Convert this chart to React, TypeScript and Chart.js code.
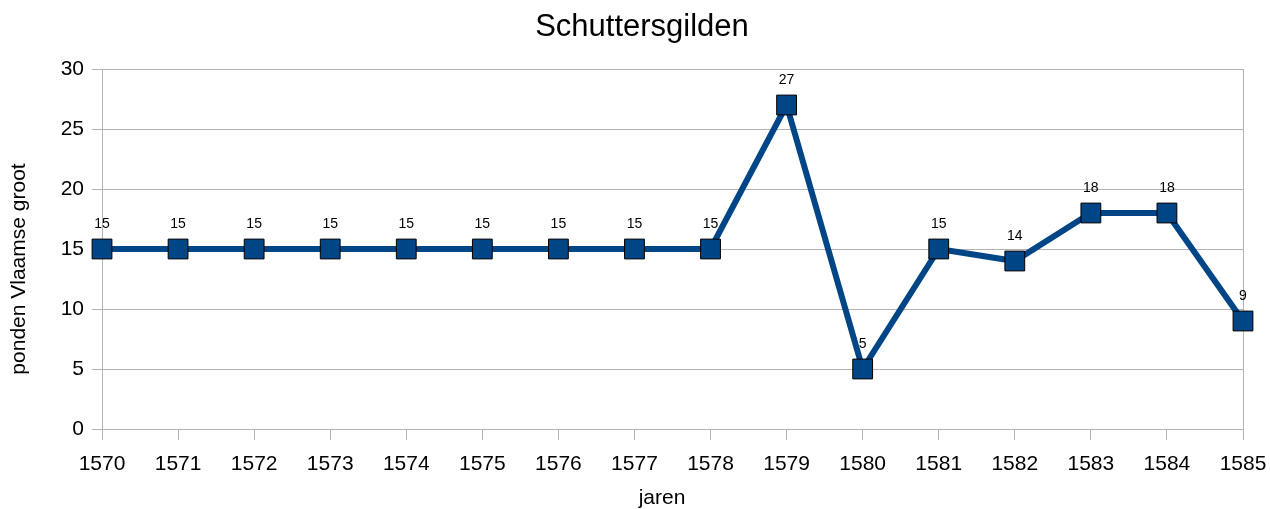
import React, { useEffect, useRef } from "react";
import { Chart, registerables } from "chart.js";

Chart.register(...registerables);

const years: string[] = ["1570","1571","1572","1573","1574","1575","1576","1577","1578","1579","1580","1581","1582","1583","1584","1585"];
const values: number[] = [15, 15, 15, 15, 15, 15, 15, 15, 15, 27, 5, 15, 14, 18, 18, 9];
const yTicks: number[] = [0, 5, 10, 15, 20, 25, 30];
const chartTitle = "Schuttersgilden";
const xTitle = "jaren";
const yTitle = "ponden Vlaamse groot";

const FONT = "'Liberation Sans', Arial, sans-serif";
const GRID = "#b3b3b3";
const BLUE = "#004586";

const labelPlugin = {
  id: "valueLabels",
  afterDatasetsDraw(chart: any) {
    const ctx = chart.ctx;
    const meta = chart.getDatasetMeta(0);
    ctx.save();
    ctx.font = `14px ${FONT}`;
    ctx.fillStyle = "#000";
    ctx.textAlign = "center";
    ctx.textBaseline = "middle";
    meta.data.forEach((pt: any, i: number) => {
      ctx.fillText(String(values[i]), pt.x, pt.y - 25);
    });
    ctx.restore();
  },
};

const framePlugin = {
  id: "frameAndTitles",
  beforeDatasetsDraw(chart: any) {
    const { ctx, chartArea } = chart;
    ctx.save();
    ctx.strokeStyle = GRID;
    ctx.lineWidth = 1;
    ctx.beginPath();
    const x = Math.round(chartArea.right) + 0.5;
    ctx.moveTo(x, chartArea.top);
    ctx.lineTo(x, chartArea.bottom + 11);
    ctx.stroke();
    ctx.restore();
  },
  afterDraw(chart: any) {
    const { ctx } = chart;
    ctx.save();
    ctx.fillStyle = "#000";
    ctx.textAlign = "center";
    ctx.textBaseline = "middle";
    ctx.font = `31px ${FONT}`;
    ctx.fillText(chartTitle, 642, 27);
    ctx.font = `21px ${FONT}`;
    ctx.fillText(xTitle, 662, 498);
    ctx.translate(19, 269);
    ctx.rotate(-Math.PI / 2);
    ctx.fillText(yTitle, 0, 0);
    ctx.restore();
  },
};

export default function App() {
  const ref = useRef<HTMLCanvasElement | null>(null);
  useEffect(() => {
    if (!ref.current) return;
    const chart = new Chart(ref.current, {
      type: "line",
      data: {
        labels: years,
        datasets: [
          {
            data: values,
            borderColor: BLUE,
            borderWidth: 6,
            backgroundColor: BLUE,
            pointStyle: "rect",
            pointRadius: 14,
            pointHoverRadius: 14,
            pointBackgroundColor: BLUE,
            pointBorderColor: "#000",
            pointBorderWidth: 1,
            tension: 0,
          },
        ],
      },
      options: {
        animation: false,
        responsive: true,
        maintainAspectRatio: false,
        layout: { padding: { left: 0, right: 27, top: 69, bottom: 0 } },
        plugins: {
          legend: { display: false },
          tooltip: { enabled: false },
          title: { display: false },
        },
        scales: {
          x: {
            type: "category",
            offset: false,
            grid: {
              display: true,
              drawOnChartArea: false,
              drawTicks: true,
              tickLength: 11,
              color: GRID,
            },
            border: { display: true, color: GRID },
            ticks: {
              color: "#000",
              font: { family: FONT, size: 21 },
              padding: 12,
              maxRotation: 0,
              autoSkip: false,
            },
            afterFit(scale: any) {
              scale.height = 80;
              scale.paddingLeft = 0;
              scale.paddingRight = 0;
            },
          },
          y: {
            min: 0,
            max: 30,
            afterBuildTicks(scale: any) {
              scale.ticks = yTicks.map((v) => ({ value: v }));
            },
            grid: {
              display: true,
              drawOnChartArea: true,
              tickLength: 10,
              color: GRID,
            },
            border: { display: true, color: GRID },
            ticks: {
              color: "#000",
              font: { family: FONT, size: 21 },
              padding: 8,
            },
            afterFit(scale: any) {
              scale.width = 102;
              scale.paddingTop = 0;
              scale.paddingBottom = 0;
            },
          },
        },
      },
      plugins: [framePlugin, labelPlugin],
    });
    return () => chart.destroy();
  }, []);
  return (
    <div style={{ position: "fixed", left: 0, top: 0, width: 1270, height: 509, background: "#fff" }}>
      <canvas ref={ref} />
    </div>
  );
}
